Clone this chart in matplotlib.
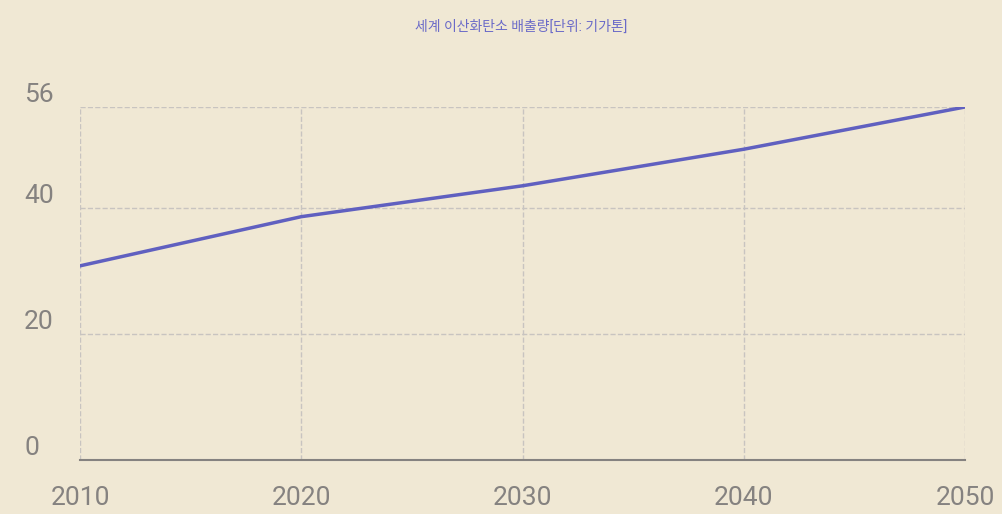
import matplotlib.pyplot as plt

years = [2010, 2020, 2030, 2040, 2050]
emissions = [30.8, 38.6, 43.5, 49.3, 56.0]
yticks = [0, 20, 40, 56]

bg = '#f0e8d4'
plt.rcParams['font.family'] = ['Roboto', 'Noto Sans CJK KR', 'DejaVu Sans']

fig = plt.figure(figsize=(10.03, 5.14), dpi=100, facecolor=bg)
ax = fig.add_axes([80/1003, 1-460/514, 885/1003, 353/514], facecolor=bg)
ax.plot(years, emissions, color='#6060c0', lw=2.5, zorder=3)
ax.set_xlim(2010, 2050)
ax.set_ylim(0, 56)
ax.set_xticks(years)
ax.set_yticks(yticks)
ax.grid(True, ls='--', color='#c8c4c0', lw=1)
ax.tick_params(axis='y', length=0, labelleft=False)
ax.tick_params(axis='x', length=0, labelsize=19, colors='#858280', pad=19)
for s in ['top', 'right', 'left']:
    ax.spines[s].set_visible(False)
ax.spines['bottom'].set_color('#858280')
ax.spines['bottom'].set_linewidth(1.5)
for v in yticks:
    ax.annotate(str(v), xy=(0, v), xycoords=('figure fraction', 'data'),
                xytext=(24, 0), textcoords='offset pixels',
                ha='left', va='bottom', fontsize=19, color='#858280')
fig.text(0.52, 1-27/514, '세계 이산화탄소 배출량[단위: 기가톤]', ha='center', va='center',
         fontsize=10, color='#6a6ac8')
fig.savefig('out.png', dpi=100, facecolor=bg)
